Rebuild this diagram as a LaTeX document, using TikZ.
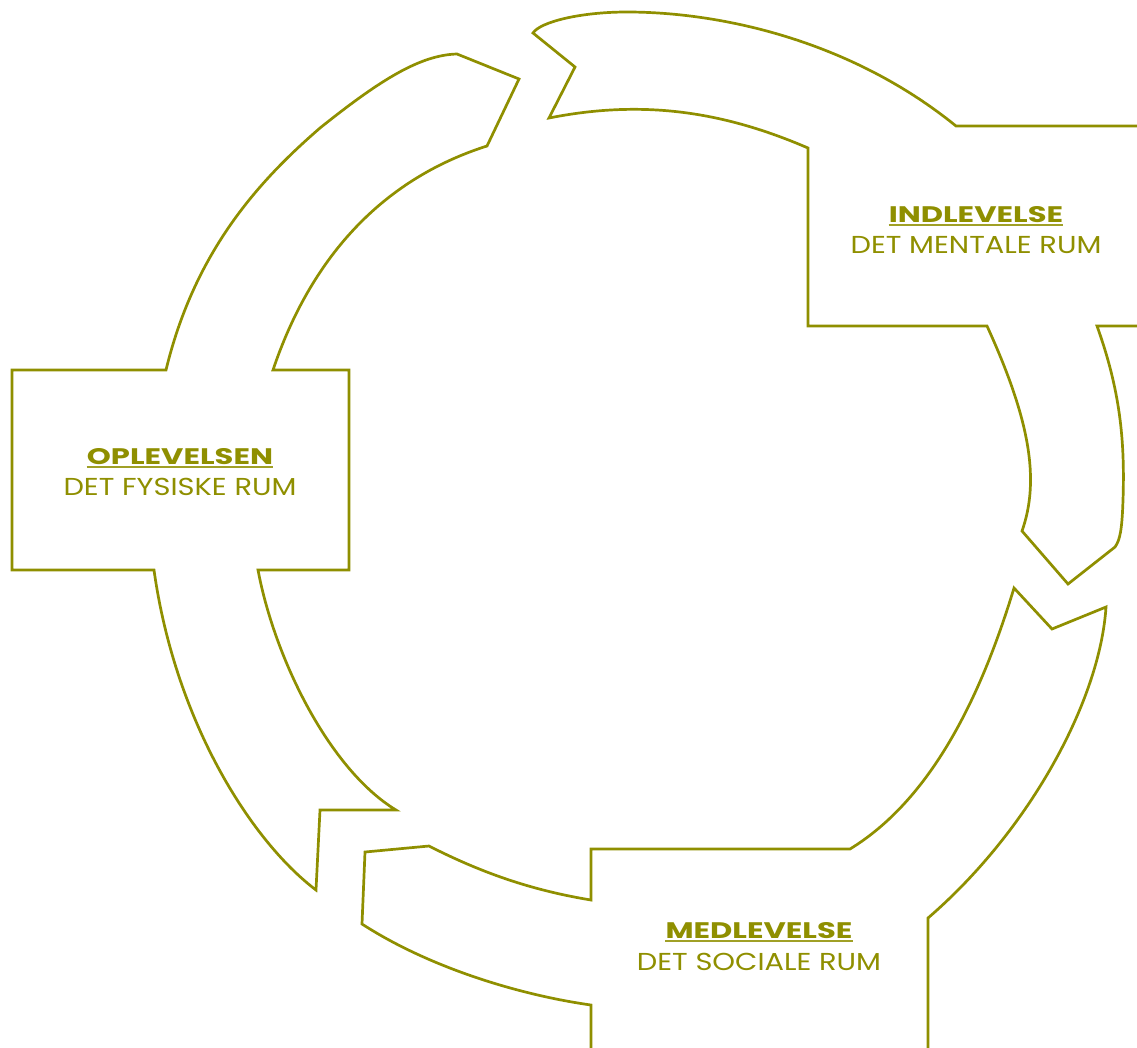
\documentclass[tikz,border=0pt]{standalone}
\usepackage{fontspec}
\setmainfont{Poppins}
\newfontfamily\ttlfont[FakeStretch=1.36]{Poppins}
\newfontfamily\subfont[FakeStretch=1.18]{Poppins}
\definecolor{olive}{RGB}{143,143,0}
\usepackage{tikz}
\usetikzlibrary{calc,positioning}

\begin{document}
\begin{tikzpicture}[
  x=1pt, y=-1pt,
  ring/.style={draw=olive, line width=2.7pt, line join=miter},
  ttl/.style={text=olive, inner sep=0pt, font=\ttlfont\fontsize{22.5}{26}\selectfont\bfseries},
  sub/.style={text=olive, inner sep=0pt, font=\subfont\fontsize{24.5}{28}\selectfont},
  uline/.style={draw=olive!85, line width=1.8pt}
]
\clip (0,0) rectangle (1137,1047);

% top right arrow
\draw[ring] (1150,126) -- (956,126)
  .. controls (850,40) and (720,12) .. (627,12)
  .. controls (580,12) and (540,22) .. (533,33)
  -- (575,67) -- (549,118)
  .. controls (640,100) and (720,110) .. (808,148)
  -- (808,326) -- (987,326)
  .. controls (1030,420) and (1040,480) .. (1022,531)
  -- (1068,584) -- (1115,547)
  .. controls (1120,540) and (1122,530) .. (1123,500)
  .. controls (1125,440) and (1120,390) .. (1097,326)
  -- (1150,326);

% bottom right arrow
\draw[ring] (928,1060) -- (928,918)
  .. controls (1030,830) and (1100,700) .. (1106,607)
  -- (1052,629) -- (1014,588)
  .. controls (980,700) and (930,800) .. (850,849)
  -- (591,849) -- (591,900)
  .. controls (530,890) and (480,872) .. (429,846)
  -- (365,852) -- (362,924)
  .. controls (430,968) and (520,995) .. (591,1005)
  -- (591,1060);

% left arrow
\draw[ring] (12,370) -- (166,370)
  .. controls (195,250) and (260,180) .. (320,128)
  .. controls (380,80) and (420,55) .. (457,54)
  -- (519,79) -- (487,146)
  .. controls (380,180) and (310,260) .. (273,370)
  -- (349,370) -- (349,570) -- (258,570)
  .. controls (275,660) and (330,770) .. (396,810)
  -- (320,810) -- (316,890)
  .. controls (250,840) and (175,720) .. (154,570)
  -- (12,570) -- cycle;

% labels
\node[ttl, anchor=base] (indlevelse) at (976,222) {INDLEVELSE};
\node[sub, anchor=base] (mentale) at (976,253) {DET MENTALE RUM};
\draw[uline] ([yshift=-3pt]indlevelse.base west) -- ([yshift=-3pt]indlevelse.base east);

\node[ttl, anchor=base] (oplevelsen) at (180,464) {OPLEVELSEN};
\node[sub, anchor=base] (fysiske) at (180,495) {DET FYSISKE RUM};
\draw[uline] ([yshift=-3pt]oplevelsen.base west) -- ([yshift=-3pt]oplevelsen.base east);

\node[ttl, anchor=base] (medlevelse) at (759,938) {MEDLEVELSE};
\node[sub, anchor=base] (sociale) at (759,970) {DET SOCIALE RUM};
\draw[uline] ([yshift=-3pt]medlevelse.base west) -- ([yshift=-3pt]medlevelse.base east);
\end{tikzpicture}
\end{document}
